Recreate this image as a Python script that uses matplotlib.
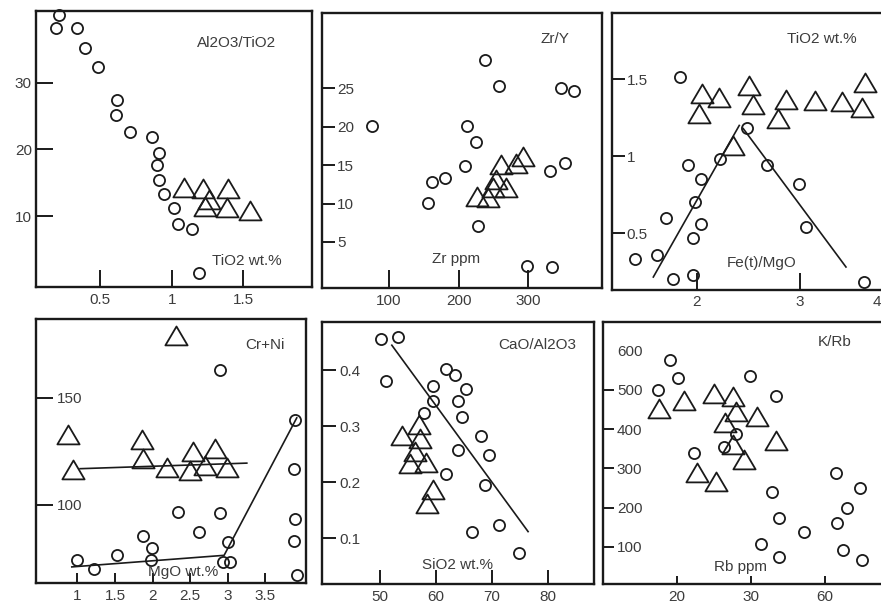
import matplotlib
matplotlib.use('Agg')
import matplotlib.pyplot as plt
from matplotlib.path import Path

plt.rcParams['font.family'] = ['Liberation Sans', 'DejaVu Sans']
plt.rcParams['font.size'] = 11

# ---------------- data ----------------
# Panel 1: Al2O3/TiO2 vs TiO2 wt.%
p1_circ_x = [0.215, 0.192, 0.34, 0.395, 0.488, 0.621, 0.61, 0.71, 0.861, 0.908, 0.90, 0.91, 0.948, 1.017, 1.043, 1.14, 1.19]
p1_circ_y = [40.1, 38.2, 38.2, 35.2, 32.4, 27.4, 25.1, 22.6, 21.9, 19.5, 17.7, 15.4, 13.3, 11.2, 8.8, 8.0, 1.5]
p1_tri_x = [1.083, 1.22, 1.39, 1.26, 1.23, 1.386, 1.544]
p1_tri_y = [14.2, 14.0, 14.0, 12.4, 11.4, 11.2, 10.8]
p1_xticks = [0.5, 1, 1.5]
p1_xlabels = ['0.5', '1', '1.5']
p1_yticks = [10, 20, 30]
p1_ylabels = ['10', '20', '30']

# Panel 2: Zr/Y vs Zr ppm
p2_circ_x = [75.2, 237.7, 257.8, 347.8, 365.9, 211.5, 224.8, 210, 162.2, 181.3, 155.5, 228.2, 332, 352.5, 299, 334.9]
p2_circ_y = [20.1, 28.7, 25.3, 25.1, 24.6, 20.1, 18.0, 14.9, 12.8, 13.3, 10.1, 7.1, 14.2, 15.3, 1.9, 1.7]
p2_tri_x = [226.7, 242.5, 249.6, 267.9, 254.5, 260.3, 283.2, 292.7]
p2_tri_y = [10.9, 10.7, 12.0, 12.0, 13.0, 15.0, 15.2, 16.1]
p2_xticks = [100, 200, 300]
p2_xlabels = ['100', '200', '300']
p2_yticks = [5, 10, 15, 20, 25]
p2_ylabels = ['5', '10', '15', '20', '25']

# Panel 3: TiO2 wt.% vs Fe(t)/MgO
p3_circ_x = [1.84, 2.484, 2.226, 1.919, 2.039, 1.984, 2.039, 1.968, 1.703, 1.613, 1.403, 1.768, 1.968, 2.678, 2.99, 3.058, 3.62]
p3_circ_y = [1.515, 1.186, 0.979, 0.946, 0.855, 0.70, 0.563, 0.47, 0.60, 0.362, 0.336, 0.206, 0.232, 0.946, 0.823, 0.541, 0.184]
p3_tri_x = [2.048, 2.219, 2.025, 2.506, 2.548, 2.861, 2.79, 3.145, 3.404, 3.63, 3.597, 2.348]
p3_tri_y = [1.407, 1.381, 1.277, 1.457, 1.331, 1.364, 1.24, 1.359, 1.353, 1.476, 1.314, 1.067]
p3_line1_x = [1.58, 2.412]
p3_line1_y = [0.216, 1.20]
p3_line2_x = [2.45, 3.445]
p3_line2_y = [1.18, 0.281]
p3_xticks = [2, 3, 3.745]
p3_xlabels = ['2', '3', '4']
p3_yticks = [0.5, 1, 1.5]
p3_ylabels = ['0.5', '1', '1.5']

# Panel 4: Cr+Ni vs MgO wt.%
p4_circ_x = [2.898, 3.895, 3.882, 3.895, 3.882, 3.917, 2.343, 2.898, 2.618, 1.869, 1.989, 1.976, 0.99, 1.226, 1.524, 3.008, 2.942, 3.03]
p4_circ_y = [162.9, 139.8, 116.9, 93.3, 83.2, 67.5, 96.8, 96.4, 87.5, 85.6, 80.1, 74.2, 74.2, 70.0, 76.5, 82.5, 73.4, 73.4]
p4_tri_x = [2.309, 0.88, 0.94, 1.856, 1.878, 2.189, 2.535, 2.499, 2.698, 2.831, 2.987]
p4_tri_y = [178.9, 132.8, 116.4, 130.4, 121.4, 117.2, 124.5, 115.6, 118.0, 126.1, 117.2]
p4_line_tri_x = [1.036, 3.253]
p4_line_tri_y = [116.9, 119.5]
p4_line_circ_x = [0.926, 2.951, 3.917]
p4_line_circ_y = [71.1, 76.5, 140.6]
p4_xticks = [1, 1.5, 2, 2.5, 3, 3.5]
p4_xlabels = ['1', '1.5', '2', '2.5', '3', '3.5']
p4_yticks = [100, 150]
p4_ylabels = ['100', '150']

# Panel 5: CaO/Al2O3 vs SiO2 wt.%
p5_circ_x = [50.1, 53.2, 51.1, 59.5, 59.4, 57.9, 61.8, 63.5, 65.4, 63.9, 64.6, 68.1, 69.5, 64.0, 61.8, 68.8, 71.3, 66.5, 74.9]
p5_circ_y = [0.4565, 0.459, 0.380, 0.372, 0.345, 0.323, 0.402, 0.391, 0.366, 0.345, 0.317, 0.283, 0.248, 0.257, 0.215, 0.196, 0.124, 0.111, 0.073]
p5_tri_x = [53.9, 56.9, 57.2, 56.3, 55.4, 58.2, 59.5, 58.4]
p5_tri_y = [0.283, 0.302, 0.278, 0.254, 0.232, 0.234, 0.187, 0.162]
p5_line_x = [52.1, 76.5]
p5_line_y = [0.4446, 0.112]
p5_xticks = [50, 60, 70, 80]
p5_xlabels = ['50', '60', '70', '80']
p5_yticks = [0.1, 0.2, 0.3, 0.4]
p5_ylabels = ['0.1', '0.2', '0.3', '0.4']

# Panel 6: K/Rb vs Rb ppm
p6_circ_x = [19.1, 20.1, 17.4, 29.9, 33.3, 28.0, 26.3, 22.3, 32.8, 33.7, 37.2, 31.4, 33.8, 41.5, 44.7, 43.0, 41.6, 42.4, 45.0]
p6_circ_y = [576.5, 529.8, 500, 535.7, 485.5, 387.8, 355.4, 338.5, 240.6, 172.7, 137, 107.1, 74.7, 287.5, 249.2, 199.7, 159.9, 91.8, 66.3]
p6_tri_x = [17.6, 20.9, 25.0, 27.5, 28.0, 30.8, 26.5, 27.6, 29.0, 33.3, 22.7, 25.2]
p6_tri_y = [450.8, 471.9, 489.8, 481.4, 444.6, 431.9, 416.6, 359.7, 321.4, 370.7, 287.5, 264.5]
p6_xticks = [20, 30, 40]
p6_xlabels = ['20', '30', '60']
p6_yticks = [100, 200, 300, 400, 500, 600]
p6_ylabels = ['100', '200', '300', '400', '500', '600']

# ---------------- drawing ----------------
W, H = 881, 606
fig = plt.figure(figsize=(W / 100, H / 100), dpi=100)
fig.patch.set_facecolor('white')

TXT = '#3c3c3c'
INK = '#1a1a1a'
tri_marker = Path([(0, 0.9), (-1, -0.8), (1, -0.8), (0, 0.9)],
                  [Path.MOVETO, Path.LINETO, Path.LINETO, Path.CLOSEPOLY])


def panel(box, xlim, ylim, xt, xl, yt, yl, ypad, inside, ylen=9, xlen=9):
    l, t, r, b = box
    ax = fig.add_axes([l / W, 1 - b / H, (r - l) / W, (b - t) / H])
    ax.set_xlim(*xlim)
    ax.set_ylim(*ylim)
    for s in ax.spines.values():
        s.set_linewidth(1.7)
        s.set_color(INK)
    ax.set_xticks(xt)
    ax.set_xticklabels(xl)
    ax.set_yticks(yt)
    ax.set_yticklabels(yl)
    ax.tick_params(axis='x', direction='in', length=xlen, width=1.4, color=INK,
                   pad=4, labelsize=11, labelcolor=TXT)
    ax.tick_params(axis='y', direction='in', length=ylen, width=1.4, color=INK,
                   pad=ypad, labelsize=11, labelcolor=TXT)
    if inside:
        for lab in ax.get_yticklabels():
            lab.set_horizontalalignment('left')
    return ax


def pts(ax, cx, cy, tx, ty):
    ax.plot(cx, cy, linestyle='none', marker='o', ms=8, mfc='none', mec=INK,
            mew=1.3, clip_on=False, zorder=3)
    ax.plot(tx, ty, linestyle='none', marker=tri_marker, ms=16, mfc='none',
            mec=INK, mew=1.3, clip_on=False, zorder=3)


def label(x, y, s):
    fig.text(x / W, 1 - y / H, s, ha='center', va='center', color=TXT, fontsize=11)


# Panel 1
ax1 = panel((36, 11, 312, 287), (0.052, 1.98), (-0.65, 40.75),
            p1_xticks, p1_xlabels, p1_yticks, p1_ylabels, 3, False, ylen=12, xlen=12)
pts(ax1, p1_circ_x, p1_circ_y, p1_tri_x, p1_tri_y)
label(237, 43, 'Al2O3/TiO2')
label(247, 261, 'TiO2 wt.%')

# Panel 2
ax2 = panel((322, 13, 602, 288), (4, 406), (-1.0, 34.8),
            p2_xticks, p2_xlabels, p2_yticks, p2_ylabels, -11, True, ylen=9, xlen=13)
pts(ax2, p2_circ_x, p2_circ_y, p2_tri_x, p2_tri_y)
label(555, 39, 'Zr/Y')
label(456, 259, 'Zr ppm')

# Panel 3
ax3 = panel((612, 13, 900, 289.5), (1.18, 3.968), (0.135, 1.93),
            p3_xticks, p3_xlabels, p3_yticks, p3_ylabels, -10.5, True, ylen=9, xlen=12)
pts(ax3, p3_circ_x, p3_circ_y, p3_tri_x, p3_tri_y)
ax3.plot(p3_line1_x, p3_line1_y, color=INK, lw=1.2)
ax3.plot(p3_line2_x, p3_line2_y, color=INK, lw=1.2)
ax3.xaxis.get_major_ticks()[-1].tick1line.set_visible(False)
label(822, 39, 'TiO2 wt.%')
label(762, 263, 'Fe(t)/MgO')

# Panel 4
ax4 = panel((36, 319, 306, 583), (0.45, 4.04), (63.6, 186.7),
            p4_xticks, p4_xlabels, p4_yticks, p4_ylabels, -15, True, ylen=12, xlen=7)
pts(ax4, p4_circ_x, p4_circ_y, p4_tri_x, p4_tri_y)
ax4.plot(p4_line_tri_x, p4_line_tri_y, color=INK, lw=1.2)
ax4.plot(p4_line_circ_x, p4_line_circ_y, color=INK, lw=1.2)
label(265, 345, 'Cr+Ni')
label(183, 572, 'MgO wt.%')

# Panel 5
ax5 = panel((322, 322, 594, 584), (39.6, 88.3), (0.0185, 0.486),
            p5_xticks, p5_xlabels, p5_yticks, p5_ylabels, -12.5, True, ylen=10, xlen=10)
pts(ax5, p5_circ_x, p5_circ_y, p5_tri_x, p5_tri_y)
ax5.plot(p5_line_x, p5_line_y, color=INK, lw=1.2)
label(537, 345, 'CaO/Al2O3')
label(457, 565, 'SiO2 wt.%')

# Panel 6
ax6 = panel((603, 322, 900, 584), (10, 50.1), (5, 673),
            p6_xticks, p6_xlabels, p6_yticks, p6_ylabels, -10, True, ylen=8, xlen=6)
pts(ax6, p6_circ_x, p6_circ_y, p6_tri_x, p6_tri_y)
ax6.yaxis.get_major_ticks()[-1].tick1line.set_visible(False)
label(835, 342, 'K/Rb')
label(741, 567, 'Rb ppm')

fig.savefig('out.png', dpi=100, facecolor='white')
